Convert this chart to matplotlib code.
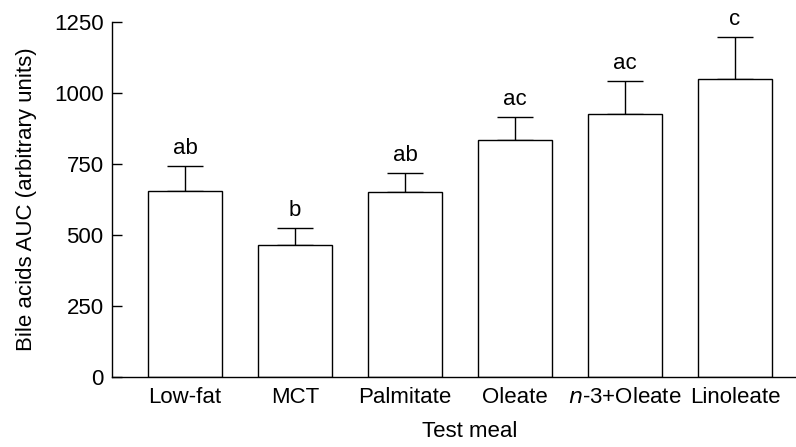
import numpy as np
import matplotlib.pyplot as plt

plt.rcParams['font.family'] = ['Liberation Sans', 'DejaVu Sans']

# data
meals = ['Low-fat', 'MCT', 'Palmitate', 'Oleate', '$\\it{n}$-3+Oleate', 'Linoleate']
auc = [654, 464, 652, 833, 926, 1049]
sem = [90, 60, 67, 84, 116, 147]
letters = ['ab', 'b', 'ab', 'ac', 'ac', 'c']

x = np.arange(len(meals))
fs = 16

fig = plt.figure(figsize=(7.96, 4.47), dpi=100)
ax = fig.add_axes([112 / 796, 70 / 447, 684 / 796, 355 / 447])

ax.bar(x, auc, width=0.67, color='white', edgecolor='black', linewidth=1.0, zorder=2)
ax.errorbar(x, auc, yerr=[np.zeros(len(sem)), sem], fmt='none', ecolor='black',
            elinewidth=1.0, capsize=13.3, capthick=1.0, zorder=1)

for xi, top, lab in zip(x, np.array(auc) + np.array(sem), letters):
    ax.annotate(lab, (xi, top), xytext=(0, 5), textcoords='offset points',
                ha='center', va='bottom', fontsize=fs, annotation_clip=False)

ax.set_xlim(-0.665, 5.555)
ax.set_ylim(0, 1250)
ax.set_yticks([0, 250, 500, 750, 1000, 1250])
ax.set_xticks(x)
ax.set_xticklabels(meals)
ax.tick_params(axis='y', direction='in', length=7, width=1.0, labelsize=fs, pad=6)
ax.tick_params(axis='x', length=0, labelsize=fs, pad=7)

ax.spines['top'].set_visible(False)
ax.spines['right'].set_visible(False)
ax.spines['left'].set_linewidth(1.0)
ax.spines['bottom'].set_linewidth(1.0)

ax.set_ylabel('Bile acids AUC (arbitrary units)', fontsize=fs, labelpad=12)
ax.set_xlabel('Test meal', fontsize=fs)
ax.xaxis.set_label_coords((470 - 112) / 684, -0.125)

fig.savefig('out.png', dpi=100)
